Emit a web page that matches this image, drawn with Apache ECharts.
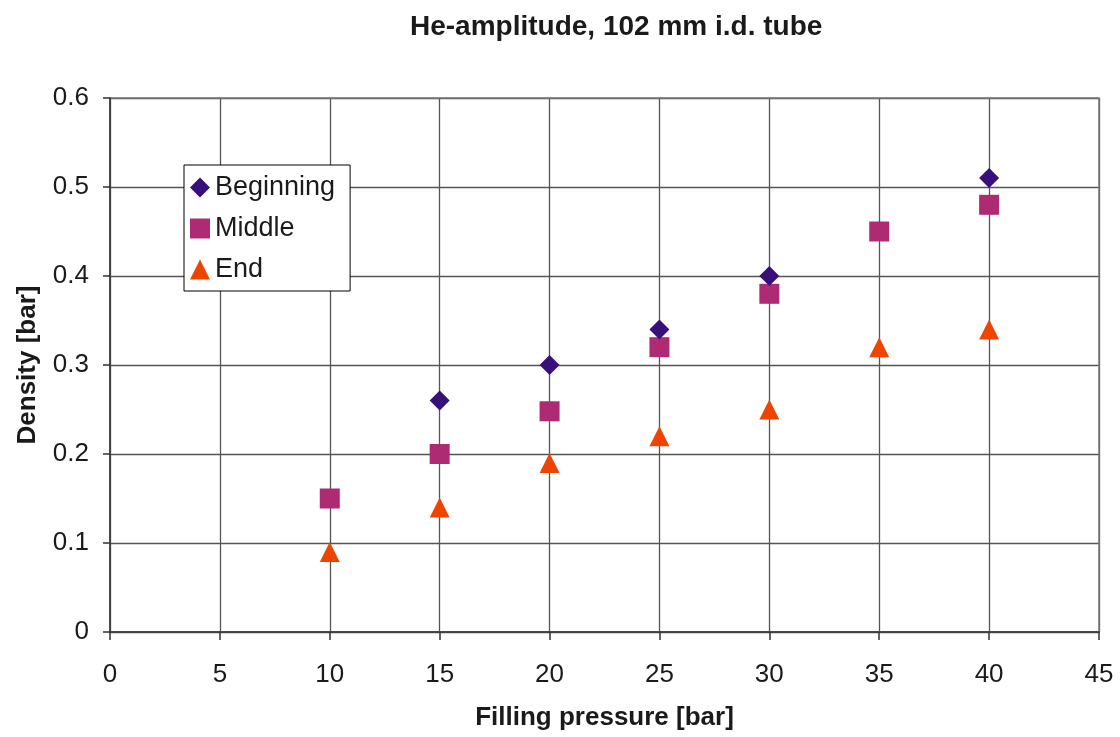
<!DOCTYPE html>
<html>
<head>
<meta charset="utf-8">
<title>He-amplitude, 102 mm i.d. tube</title>
<script src="https://cdn.jsdelivr.net/npm/echarts@6/dist/echarts.min.js"></script>
<style>
  html, body { margin: 0; padding: 0; background: #ffffff; }
  #chart { width: 1120px; height: 737px; }
</style>
</head>
<body>
<div id="chart"></div>
<script>
// Filling pressure [bar] at which each measurement was taken
const pressure = [10, 15, 20, 25, 30, 35, 40];
// Density [bar] at the beginning, middle and end of the tube (null = not measured)
const beginning = [null, 0.26, 0.30, 0.34, 0.40, null, 0.51];
const middle = [0.15, 0.20, 0.248, 0.32, 0.38, 0.45, 0.48];
const end = [0.09, 0.14, 0.19, 0.22, 0.25, 0.32, 0.34];

const seriesNames = ['Beginning', 'Middle', 'End'];
const titleText = 'He-amplitude, 102 mm i.d. tube';
const xName = 'Filling pressure [bar]';
const yName = 'Density [bar]';

const FONT = '"Liberation Sans", Arial, sans-serif';
const TEXT = '#1a1a1a';

function pairs(values) {
  return pressure.map((p, i) => [p, values[i]]).filter(d => d[1] !== null);
}

const chart = echarts.init(document.getElementById('chart'), null, { renderer: 'canvas' });

chart.setOption({
  animation: false,
  backgroundColor: '#ffffff',
  title: {
    text: titleText,
    left: 405,
    top: 6,
    textStyle: { fontFamily: FONT, fontSize: 28, fontWeight: 'bold', color: TEXT, lineHeight: 32 }
  },
  grid: { left: 110, right: 21, top: 98, bottom: 105, containLabel: false, outerBoundsMode: 'none' },
  legend: {
    orient: 'vertical',
    left: 184,
    top: 165,
    padding: [9, 15, 8, 6],
    itemWidth: 20,
    itemHeight: 20,
    itemGap: 14,
    backgroundColor: '#ffffff',
    borderColor: '#000000',
    borderWidth: 1,
    data: seriesNames,
    textStyle: { fontFamily: FONT, fontSize: 27, color: TEXT }
  },
  xAxis: {
    type: 'value',
    min: 0,
    max: 45,
    interval: 5,
    name: xName,
    nameLocation: 'middle',
    nameGap: 73,
    nameTextStyle: { fontFamily: FONT, fontSize: 26, fontWeight: 'bold', color: TEXT },
    axisLine: { show: true, lineStyle: { color: '#333333', width: 1.5 } },
    axisTick: { show: true, inside: false, length: 8, lineStyle: { color: '#333333', width: 1.5 } },
    axisLabel: { fontFamily: FONT, fontSize: 26, color: TEXT, margin: 30 },
    splitLine: { show: true, lineStyle: { color: '#555555', width: 1.3 } }
  },
  yAxis: {
    type: 'value',
    min: 0,
    max: 0.6,
    interval: 0.1,
    name: yName,
    nameLocation: 'middle',
    nameGap: 69,
    nameRotate: 90,
    nameTextStyle: { fontFamily: FONT, fontSize: 26, fontWeight: 'bold', color: TEXT },
    axisLine: { show: true, lineStyle: { color: '#333333', width: 1.5 } },
    axisTick: { show: true, inside: false, length: 7, lineStyle: { color: '#333333', width: 1.5 } },
    axisLabel: {
      fontFamily: FONT, fontSize: 26, color: TEXT, margin: 21,
      formatter: v => (v === 0 ? '0' : v.toFixed(1))
    },
    splitLine: { show: true, lineStyle: { color: '#555555', width: 1.3 } }
  },
  series: [
    {
      name: seriesNames[0],
      type: 'scatter',
      symbol: 'diamond',
      symbolSize: 20,
      itemStyle: { color: '#38107a', opacity: 1 },
      data: pairs(beginning),
      z: 3
    },
    {
      name: seriesNames[1],
      type: 'scatter',
      symbol: 'rect',
      symbolSize: 20,
      itemStyle: { color: '#ae2a73', opacity: 1 },
      data: pairs(middle),
      z: 2
    },
    {
      name: seriesNames[2],
      type: 'scatter',
      symbol: 'triangle',
      symbolSize: 20,
      itemStyle: { color: '#ef4400', opacity: 1 },
      data: pairs(end),
      z: 2
    }
  ]
});

// Plot frame along the top and right edges of the grid
const gridRect = chart.getModel().getComponent('grid').coordinateSystem.getRect();
chart.setOption({
  graphic: [{
    type: 'rect',
    shape: { x: gridRect.x, y: gridRect.y, width: gridRect.width, height: gridRect.height },
    style: { fill: null, stroke: '#777777', lineWidth: 1.5 },
    silent: true,
    z: 0
  }]
});
</script>
</body>
</html>
